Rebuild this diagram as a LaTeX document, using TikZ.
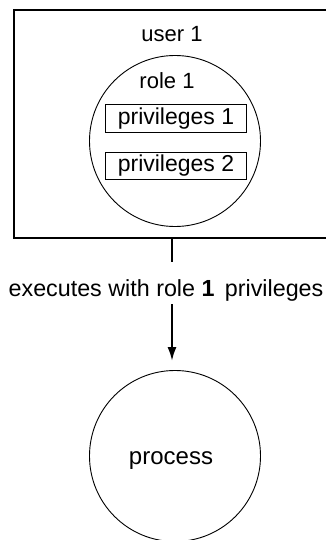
\documentclass[tikz,border=0pt]{standalone}
\usepackage{fontspec}
\setmainfont{Liberation Sans}
\usetikzlibrary{arrows.meta}
\begin{document}
\begin{tikzpicture}[x=1pt,y=-1pt,
  txt/.style={font=\fontsize{22}{26}\selectfont, inner sep=0pt},
  bigtxt/.style={font=\fontsize{24}{28}\selectfont, inner sep=0pt},
  outerbox/.style={minimum width=320pt, minimum height=228pt, inner sep=0pt},
  boxline/.style={line width=1.5pt},
  privbox/.style={draw, line width=1pt, minimum width=141pt, minimum height=27.5pt, inner sep=0pt, font=\fontsize{23}{27}\selectfont},
  bigcircle/.style={draw, circle, line width=0.9pt, minimum size=171pt, inner sep=0pt},
  conn/.style={line width=2.2pt}
]
\useasboundingbox (0,0) rectangle (326,540);
\node[outerbox] (box) at (174,124) {};
\draw[boxline] (box.north east) -- (box.north west) -- (box.south west) -- (box.south east);
\node[txt] (user) at (172,34) {user 1};
\node[bigcircle] (role) at (175,141) {};
\node[txt] (rolet) at (167,81) {role 1};
\node[privbox] (p1) at (176,118.3) {privileges 1};
\node[privbox] (p2) at (176,166) {privileges 2};
\node[font=\fontsize{23.3}{28}\selectfont, inner xsep=0pt, inner ysep=3pt] (lab) at (166,290) {executes with role \textbf{1}\, privileges};
\node[bigcircle] (proc) at (175,456) {};
\node[bigtxt] (proct) at (171,461) {process};
\draw[conn, shorten >=14pt] (box.south -| 172,0) -- (lab.north -| 172,0);
\draw[conn, -{Latex[length=14pt,width=9pt]}, shorten >=9pt] (lab.south -| 172,0) -- (proc.north -| 172,0);
\end{tikzpicture}
\end{document}
